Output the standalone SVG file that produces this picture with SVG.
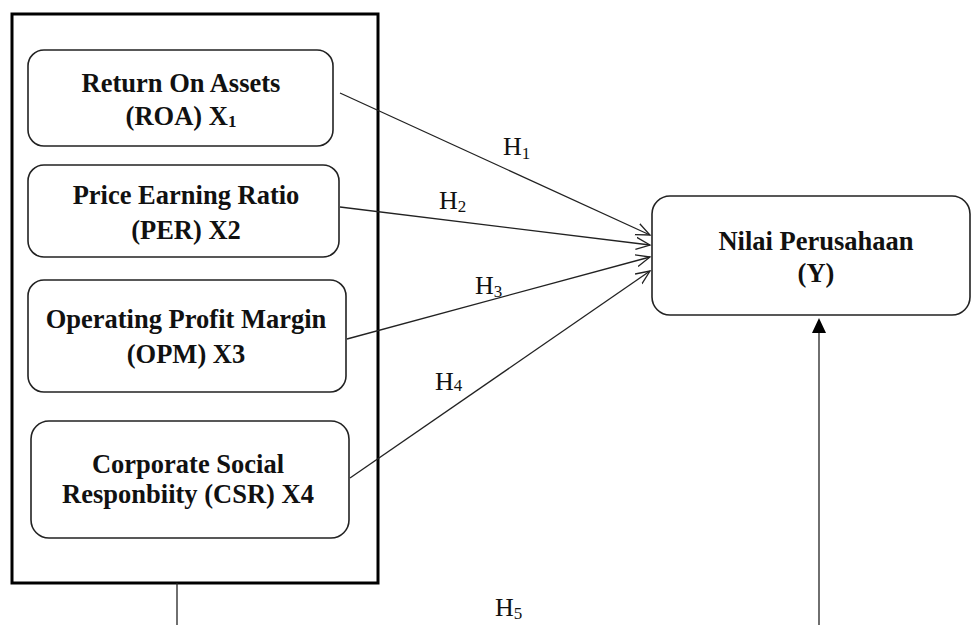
<svg xmlns="http://www.w3.org/2000/svg" width="972" height="625" viewBox="0 0 972 625">
<style>
.box{fill:#fff;stroke:#222;stroke-width:1.6}
.outer{fill:none;stroke:#000;stroke-width:3}
.t{font-family:"Liberation Serif",serif;font-weight:bold;font-size:26.5px;fill:#111;text-anchor:middle}
.h{font-family:"Liberation Serif",serif;font-size:26px;fill:#111}
.sub{font-size:17px}
.ln{stroke:#222;stroke-width:1.3;fill:none}
</style>
<defs>
<marker id="open" markerUnits="userSpaceOnUse" markerWidth="16" markerHeight="16" refX="14" refY="7" orient="auto">
<path d="M0,1 L14,7 L0,13" fill="none" stroke="#222" stroke-width="1.3"/>
</marker>
</defs>
<rect class="outer" x="12" y="14" width="366" height="569"/>
<g id="roa">
<rect class="box" x="28" y="50" width="305" height="96" rx="16"/>
<text class="t" x="181" y="92">Return On Assets</text>
<text class="t" x="181" y="125">(ROA) X<tspan font-size="17" dy="2">1</tspan></text>
</g>
<g id="per">
<rect class="box" x="28" y="165" width="311" height="92" rx="16"/>
<text class="t" x="186" y="204">Price Earning Ratio</text>
<text class="t" x="186" y="239">(PER) X2</text>
</g>
<g id="opm">
<rect class="box" x="28" y="280" width="318" height="112" rx="16"/>
<text class="t" x="186" y="328">Operating Profit Margin</text>
<text class="t" x="186" y="363">(OPM) X3</text>
</g>
<g id="csr">
<rect class="box" x="31" y="421" width="318" height="117" rx="18"/>
<text class="t" x="188" y="473">Corporate Social</text>
<text class="t" x="188" y="503">Responbiity (CSR) X4</text>
</g>
<g id="y">
<rect class="box" x="652" y="196" width="318" height="119" rx="18"/>
<text class="t" x="816" y="250">Nilai Perusahaan</text>
<text class="t" x="816" y="282">(Y)</text>
</g>
<g id="connectors">
<line class="ln" x1="340" y1="93" x2="650" y2="235" marker-end="url(#open)"/>
<line class="ln" x1="340" y1="207" x2="650" y2="245" marker-end="url(#open)"/>
<line class="ln" x1="347" y1="339" x2="650" y2="257" marker-end="url(#open)"/>
<line class="ln" x1="350" y1="478" x2="650" y2="271" marker-end="url(#open)"/>
<line class="ln" x1="177" y1="583" x2="177" y2="625"/>
<line class="ln" x1="819" y1="625" x2="819" y2="332"/>
<path d="M812,333 L826,333 L819,318 Z" fill="#000"/>
</g>
<g id="labels">
<text class="h" x="503" y="155">H<tspan class="sub" dy="4">1</tspan></text>
<text class="h" x="439" y="209">H<tspan class="sub" dy="3">2</tspan></text>
<text class="h" x="475" y="294">H<tspan class="sub" dy="3">3</tspan></text>
<text class="h" x="435" y="390">H<tspan class="sub" dy="1">4</tspan></text>
<text class="h" x="495" y="616">H<tspan class="sub" dy="3">5</tspan></text>
</g>
</svg>
